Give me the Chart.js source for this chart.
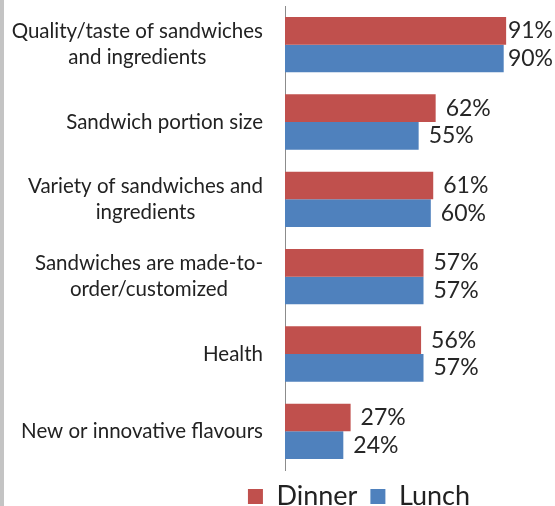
<!DOCTYPE html>
<html>
<head>
<meta charset="utf-8">
<script src="https://cdn.jsdelivr.net/npm/chart.js@4"></script>
<style>
html, body { margin: 0; padding: 0; background: #fff; }
#wrap { position: relative; width: 555px; height: 506px; }
#borda { position: absolute; left: 0; top: 0; width: 4px; height: 506px; background: #c4c4c4; }
</style>
</head>
<body>
<div id="wrap">
    <canvas id="grafico" width="555" height="506"></canvas>
    <div id="borda"></div>
</div>
<script>
// Categorias (cada linha do rótulo separada)
var categorias = [
    ['Quality/taste of sandwiches', 'and ingredients'],
    ['Sandwich portion size'],
    ['Variety of sandwiches and', 'ingredients'],
    ['Sandwiches are made-to-', 'order/customized'],
    ['Health'],
    ['New or innovative flavours']
];
var valoresJantar = [91, 62, 61, 57, 56, 27];
var valoresAlmoco = [90, 55, 60, 57, 57, 24];

var fonte = 'Lato, "DejaVu Sans", sans-serif';

// Rótulos das categorias: bloco alinhado à direita, linhas centradas entre si
var rotulosEixo = {
    id: 'rotulosEixo',
    afterDraw: function(chart) {
        var ctx = chart.ctx;
        var escala = chart.scales.y;
        var direita = chart.chartArea.left - 22;
        ctx.save();
        ctx.font = '20.5px ' + fonte;
        ctx.fillStyle = '#222';
        ctx.textAlign = 'center';
        ctx.textBaseline = 'middle';
        categorias.forEach(function(linhas, i) {
            var y = escala.getPixelForTick(i);
            var larguraMax = Math.max.apply(null, linhas.map(function(l) { return ctx.measureText(l).width; }));
            var cx = direita - larguraMax / 2;
            linhas.forEach(function(l, j) {
                ctx.fillText(l, cx, y + (j - (linhas.length - 1) / 2) * 26);
            });
        });
        ctx.restore();
    }
};

// Valores em % à direita de cada barra
var rotulosValor = {
    id: 'rotulosValor',
    afterDatasetsDraw: function(chart) {
        var ctx = chart.ctx;
        ctx.save();
        ctx.font = '23px ' + fonte;
        ctx.fillStyle = '#262626';
        ctx.textAlign = 'left';
        ctx.textBaseline = 'middle';
        chart.data.datasets.forEach(function(ds, d) {
            chart.getDatasetMeta(d).data.forEach(function(el, i) {
                var texto = ds.data[i] + '%';
                var x = Math.min(el.x + 10, chart.width - ctx.measureText(texto).width - 2);
                ctx.fillText(texto, x, el.y);
            });
        });
        ctx.restore();
    }
};

var ctxGrafico = document.getElementById('grafico').getContext('2d');
var grafico = new Chart(ctxGrafico, {
    type: 'bar',
    data: {
        labels: categorias,
        datasets: [{
            label: 'Dinner',
            data: valoresJantar,
            backgroundColor: '#C0504D',
            categoryPercentage: 0.715,
            barPercentage: 1
        }, {
            label: 'Lunch',
            data: valoresAlmoco,
            backgroundColor: '#4F81BD',
            categoryPercentage: 0.715,
            barPercentage: 1
        }]
    },
    options: {
        indexAxis: 'y',
        responsive: false,
        animation: false,
        layout: {
            padding: { left: 190, right: 27, top: 6, bottom: -14 }
        },
        plugins: {
            legend: {
                position: 'bottom',
                labels: {
                    boxWidth: 15,
                    boxHeight: 15,
                    padding: 13,
                    color: '#222',
                    font: { family: fonte, size: 27, lineHeight: 1 }
                }
            },
            tooltip: { enabled: false }
        },
        scales: {
            x: {
                display: false,
                min: 0,
                max: 100
            },
            y: {
                grid: { display: false },
                border: { display: true, color: '#8c8c8c' },
                ticks: { display: false },
                afterFit: function(escala) { escala.width = 95; }
            }
        }
    },
    plugins: [rotulosEixo, rotulosValor]
});
</script>
</body>
</html>
